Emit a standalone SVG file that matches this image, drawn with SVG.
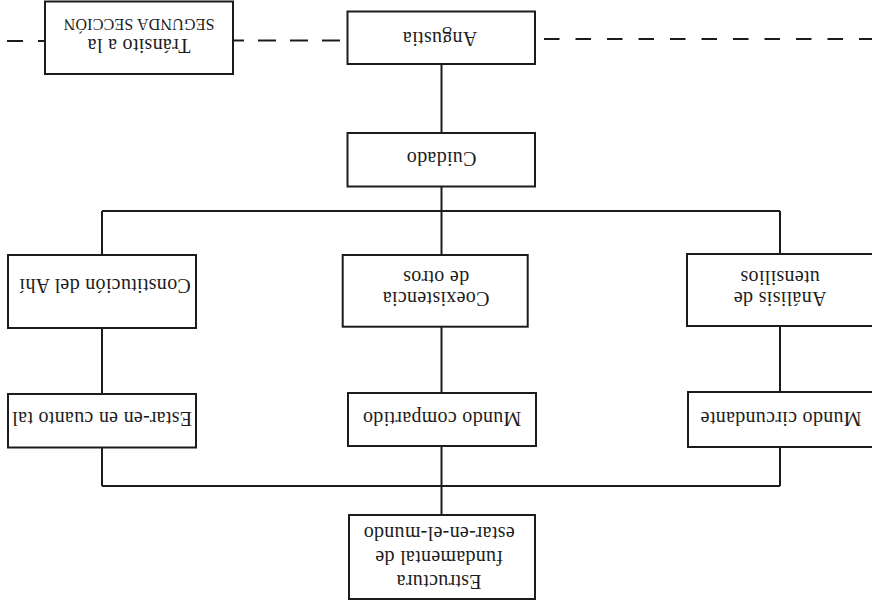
<svg xmlns="http://www.w3.org/2000/svg" width="872" height="606" viewBox="0 0 872 606">
<style>
.box{fill:#ffffff;stroke:#1c1c1c;stroke-width:2}
.ln{fill:none;stroke:#1c1c1c;stroke-width:2}
.dash{fill:none;stroke:#1c1c1c;stroke-width:2}
.lbl{font-family:"Liberation Serif","Times New Roman",serif;font-size:20px;fill:#1c1c1c;text-anchor:middle;letter-spacing:0.3px}
.sc{font-size:16px;letter-spacing:0.2px}
</style>
<rect x="0" y="0" width="872" height="606" fill="#ffffff"/>
<g id="connectors">
  <path class="dash" d="M45 41 H0" stroke-dasharray="7 15 16 40"/>
  <path class="dash" d="M340 40.5 H233" stroke-dasharray="18 14"/>
  <path class="dash" d="M544 39 H872" stroke-dasharray="15.5 16"/>
  <path class="ln" d="M441.5 64 V133"/>
  <path class="ln" d="M441.5 186 V211"/>
  <path class="ln" d="M102 211 H780"/>
  <path class="ln" d="M102 211 V255"/>
  <path class="ln" d="M441.5 211 V255"/>
  <path class="ln" d="M780 211 V254"/>
  <path class="ln" d="M102 328 V394"/>
  <path class="ln" d="M441.5 327 V393"/>
  <path class="ln" d="M780 326 V392"/>
  <path class="ln" d="M102 447 V486"/>
  <path class="ln" d="M780 447 V486"/>
  <path class="ln" d="M102 486 H780"/>
  <path class="ln" d="M441.5 446 V515"/>
</g>
<g id="transito">
  <rect class="box" x="45" y="1.5" width="188" height="72.5"/>
  <g transform="rotate(180 139 37.75)">
    <text class="lbl" x="139" y="36.8">Tránsito a la</text>
    <text class="lbl sc" x="139" y="56.2">SEGUNDA SECCIÓN</text>
  </g>
</g>
<g id="angustia">
  <rect class="box" x="347.5" y="11.5" width="187.5" height="52.5"/>
  <text class="lbl" x="440" y="44.5" transform="rotate(180 440 38)">Angustia</text>
</g>
<g id="cuidado">
  <rect class="box" x="347.5" y="133" width="187.5" height="53.5"/>
  <text class="lbl" x="441.5" y="167" transform="rotate(180 441.5 159.7)">Cuidado</text>
</g>
<g id="constitucion">
  <rect class="box" x="8" y="255" width="188" height="73"/>
  <text class="lbl" x="105" y="304" transform="rotate(180 105 291.5)">Constitución del Ahí</text>
</g>
<g id="coexistencia">
  <rect class="box" x="342.7" y="255" width="185" height="71.7"/>
  <g transform="rotate(180 436 290.85)">
    <text class="lbl" x="436" y="290">Coexistencia</text>
    <text class="lbl" x="436" y="310.8">de otros</text>
  </g>
</g>
<g id="analisis">
  <rect class="box" x="687" y="254" width="188" height="72"/>
  <g transform="rotate(180 780 290)">
    <text class="lbl" x="780" y="287.7">Análisis de</text>
    <text class="lbl" x="780" y="309.3">utensilios</text>
  </g>
</g>
<g id="estar-en">
  <rect class="box" x="8" y="394" width="188" height="53.5"/>
  <text class="lbl" x="102" y="429.5" transform="rotate(180 102 420.75)">Estar-en en cuanto tal</text>
</g>
<g id="mundo-compartido">
  <rect class="box" x="348" y="393" width="188" height="53"/>
  <text class="lbl" x="442" y="427" transform="rotate(180 442 419.5)">Mundo compartido</text>
</g>
<g id="mundo-circundante">
  <rect class="box" x="688" y="392" width="187" height="55"/>
  <text class="lbl" x="781" y="427.3" transform="rotate(180 781 419.5)">Mundo circundante</text>
</g>
<g id="estructura">
  <rect class="box" x="349" y="515" width="186" height="84"/>
  <g transform="rotate(180 439 557)">
    <text class="lbl" x="439" y="539">Estructura</text>
    <text class="lbl" x="439" y="563">fundamental de</text>
    <text class="lbl" x="439" y="587">estar-en-el-mundo</text>
  </g>
</g>
</svg>
